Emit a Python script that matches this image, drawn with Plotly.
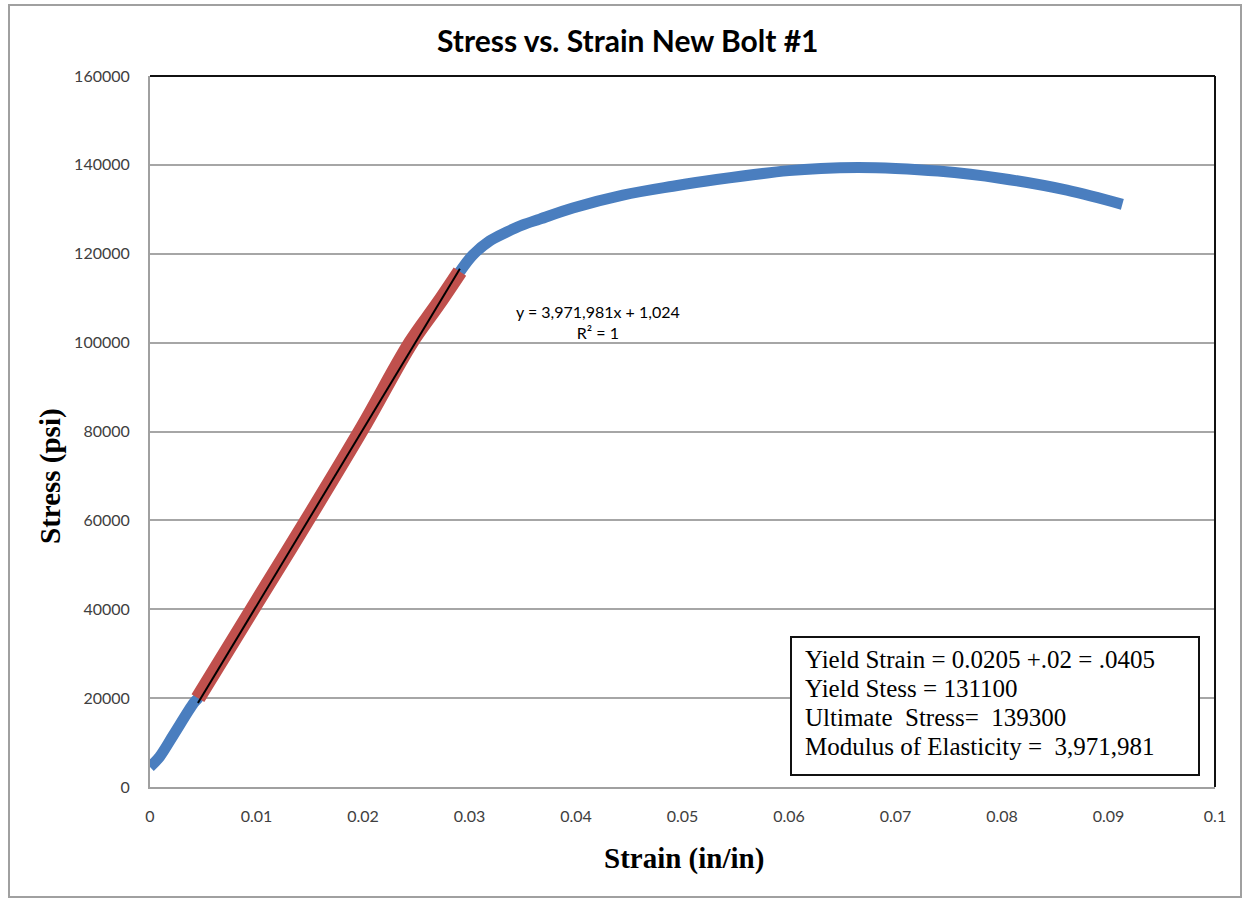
import plotly.graph_objects as go

# ---- data ----
strain = [0.0, 0.0009, 0.0022, 0.0041, 0.0045, 0.010, 0.015, 0.020, 0.0245, 0.027,
          0.0291, 0.0303, 0.0319, 0.0335, 0.0350, 0.0366, 0.0397, 0.0444, 0.0491,
          0.0532, 0.0600, 0.0630, 0.0665, 0.0700, 0.0740, 0.0798, 0.0861, 0.0913]
stress = [4500, 6800, 11700, 18900, 20000, 41500, 61000, 81000, 100000, 108500,
          116000, 119700, 122900, 124900, 126500, 127800, 130300, 133200, 135200,
          136700, 138700, 139200, 139400, 139200, 138600, 137000, 134300, 131100]

elastic_strain = [0.0045, 0.010, 0.015, 0.020, 0.0245, 0.027, 0.0291]
elastic_stress = [20000, 41500, 61000, 81000, 100000, 108500, 116000]

trend_slope = 3971981
trend_intercept = 1024
trend_x = [0.0045, 0.0291]
trend_y = [trend_slope * v + trend_intercept for v in trend_x]

x_ticks = [0, 0.01, 0.02, 0.03, 0.04, 0.05, 0.06, 0.07, 0.08, 0.09, 0.1]
x_tick_text = ["0", "0.01", "0.02", "0.03", "0.04", "0.05", "0.06", "0.07", "0.08", "0.09", "0.1"]
y_ticks = [0, 20000, 40000, 60000, 80000, 100000, 120000, 140000, 160000]
y_tick_text = [str(v) for v in y_ticks]

info_lines = ["Yield Strain = 0.0205 +.02 = .0405",
              "Yield Stess = 131100",
              "Ultimate  Stress=  139300",
              "Modulus of Elasticity =  3,971,981"]

# ---- figure ----
W, H = 1243, 899
L, R, T, B = 150, 28, 76, 112
pw, ph = W - L - R, H - T - B

def px(x):
    return (x - L) / pw

def py(y):
    return (H - B - y) / ph

fig = go.Figure()
fig.add_trace(go.Scatter(x=strain, y=stress, mode="lines",
                         line=dict(color="#4A7EBF", width=11, shape="spline", smoothing=1.0),
                         hoverinfo="skip", showlegend=False))
fig.add_trace(go.Scatter(x=elastic_strain, y=elastic_stress, mode="lines",
                         line=dict(color="#C0504D", width=15, shape="spline", smoothing=1.0),
                         hoverinfo="skip", showlegend=False))
fig.add_trace(go.Scatter(x=trend_x, y=trend_y, mode="lines",
                         line=dict(color="#000000", width=2),
                         hoverinfo="skip", showlegend=False))

tick_font = dict(family="Lato, Calibri, sans-serif", size=16, color="#404040")

fig.update_layout(
    width=W, height=H,
    margin=dict(l=L, r=R, t=T, b=B),
    paper_bgcolor="white", plot_bgcolor="white",
    xaxis=dict(range=[0, 0.1], tickvals=x_ticks, ticktext=x_tick_text,
               showgrid=False, zeroline=False, showline=True,
               linecolor="#A0A0A0", linewidth=2, ticks="", tickfont=tick_font,
               ticklabelstandoff=14),
    yaxis=dict(range=[0, 160000], tickvals=y_ticks, ticktext=y_tick_text,
               showgrid=True, gridcolor="#A6A6A6", gridwidth=1.5,
               zeroline=False, showline=True, linecolor="#A0A0A0", linewidth=2,
               ticks="", tickfont=tick_font, ticklabelstandoff=15),
)

shapes = [
    # outer chart border
    dict(type="rect", xref="paper", yref="paper", x0=px(9), x1=px(1241), y0=py(897), y1=py(5),
         line=dict(color="#A0A0A0", width=2), layer="below"),
    # top & right plot frame (dark)
    dict(type="line", xref="paper", yref="paper", x0=0, x1=1, y0=1, y1=1,
         line=dict(color="#111111", width=2)),
    dict(type="line", xref="paper", yref="paper", x0=1, x1=1, y0=0, y1=1,
         line=dict(color="#111111", width=2)),
    # info box
    dict(type="rect", xref="paper", yref="paper", x0=px(791), x1=px(1199), y0=py(775), y1=py(637),
         line=dict(color="#111111", width=2), fillcolor="white"),
]
fig.update_layout(shapes=shapes)

serif = "Liberation Serif, Times New Roman, serif"
ann = []
ann.append(dict(text="<b>Stress vs. Strain New Bolt #1</b>", xref="paper", yref="paper",
                x=px(627), y=py(40), showarrow=False, xanchor="center", yanchor="middle",
                font=dict(family="Lato, Calibri, sans-serif", size=30, color="#000000")))
ann.append(dict(text="<b>Strain (in/in)</b>", xref="paper", yref="paper",
                x=px(684), y=py(858), showarrow=False, xanchor="center", yanchor="middle",
                font=dict(family=serif, size=29, color="#000000")))
ann.append(dict(text="<b>Stress (psi)</b>", xref="paper", yref="paper",
                x=px(50), y=py(476), showarrow=False, xanchor="center", yanchor="middle",
                textangle=-90,
                font=dict(family=serif, size=29, color="#000000")))
ann.append(dict(text="y = 3,971,981x + 1,024<br>R² = 1", xref="paper", yref="paper",
                x=px(598), y=py(322), showarrow=False, xanchor="center", yanchor="middle",
                align="center",
                font=dict(family="Lato, Calibri, sans-serif", size=16, color="#000000")))
line_y = [659, 688, 717, 746]
for txt, yy in zip(info_lines, line_y):
    ann.append(dict(text=txt, xref="paper", yref="paper", x=px(803), y=py(yy),
                    showarrow=False, xanchor="left", yanchor="middle",
                    font=dict(family=serif, size=25, color="#000000")))
fig.update_layout(annotations=ann)

fig.write_html("out.html", post_script="document.body.style.margin='0';",
               config={"displayModeBar": False})
